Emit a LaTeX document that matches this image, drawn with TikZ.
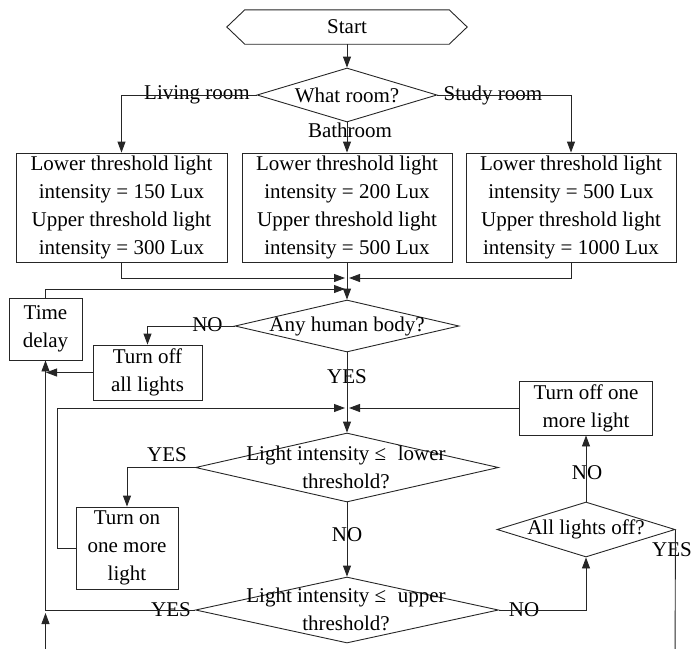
\documentclass[tikz,border=0pt]{standalone}
\usepackage{fontspec}
\setmainfont{Liberation Serif}
\usetikzlibrary{arrows.meta,shapes.geometric,calc}
\begin{document}
\begin{tikzpicture}[x=1pt,y=-1pt,
  every node/.style={font=\fontsize{21}{28}\selectfont, inner sep=0pt, align=center},
  box/.style={draw=black!85, line width=0.9pt},
  dia/.style={draw=black!85, shape=diamond, line width=0.9pt},
  link/.style={draw=black!85, line width=0.9pt},
  arr/.style={link, -{Triangle[length=11pt,width=8pt]}},
]
\useasboundingbox (0,0) rectangle (693,648);
\clip (0,0) rectangle (693,648);

% Start
\node[minimum width=204pt, minimum height=34pt] (start) at (347,27) {Start};
\draw[link] ($(start.west)+(-18,0)$) -- (start.north west) -- (start.north east)
  -- ($(start.east)+(18,0)$) -- (start.south east) -- (start.south west) -- cycle;

% What room
\node[dia, minimum width=180pt, minimum height=54pt] (room) at (347,95) {};
\node (roomt) at (room) {What room?};

% Threshold boxes
\node[box, minimum width=211pt, minimum height=109pt] (box1) at (121.5,207.5)
  {Lower threshold light\\intensity = 150 Lux\\Upper threshold light\\intensity = 300 Lux};
\node[box, minimum width=210pt, minimum height=109pt] (box2) at (347,207.5)
  {Lower threshold light\\intensity = 200 Lux\\Upper threshold light\\intensity = 500 Lux};
\node[box, minimum width=210pt, minimum height=109pt] (box3) at (571,207.5)
  {Lower threshold light\\intensity = 500 Lux\\Upper threshold light\\intensity = 1000 Lux};

% Time delay
\node[box, minimum width=73pt, minimum height=62pt] (tdelay) at (45.5,329) {Time\\delay};

% Any human body
\node[dia, minimum width=224pt, minimum height=52pt] (human) at (347,326) {};
\node (humant) at (human) {Any human body?};

% Turn off all lights
\node[box, minimum width=109pt, minimum height=55pt] (off) at (147.5,372.5) {Turn off\\all lights};

% Turn off one more light
\node[box, minimum width=133pt, minimum height=54pt] (more) at (586,408) {Turn off one\\more light};

% Lower threshold decision
\node[dia, minimum width=303pt, minimum height=69pt] (lower) at (347,467.5) {};
\node (lowert) at (346,467) {Light intensity ≤\hspace{0.3em} lower\\threshold?};

% Turn on one more light
\node[box, minimum width=102pt, minimum height=82pt] (on) at (127,548) {Turn on\\one more\\light};

% All lights off
\node[dia, minimum width=178pt, minimum height=55pt] (all) at (586,529.5) {};
\node (allt) at (all) {All lights off?};

% Upper threshold decision
\node[dia, minimum width=303pt, minimum height=66pt] (upper) at (347,610) {};
\node (uppert) at (346,609.5) {Light intensity ≤\hspace{0.3em} upper\\threshold?};

% Labels
\node (lliving) at (197,95) {Living room};
\node (lstudy) at (493,95) {Study room};
\node (lbath) at (350,130) {Bathroom};
\node (lno1) at (207.5,325) {NO};
\node (lyes1) at (347,377) {YES};
\node (lyes2) at (167,455) {YES};
\node (lno2) at (347,535) {NO};
\node (lyes3) at (171,610) {YES};
\node (lno3) at (524,610) {NO};
\node (lno4) at (587,473) {NO};
\node (lyes4) at (672,550) {YES};

% Coordinates
\coordinate (m1l) at (345,278);
\coordinate (m1r) at (349,278);
\coordinate (td) at (345,289);
\coordinate (m2l) at (345,408);
\coordinate (m2r) at (349,408);
\coordinate (offend) at (46,372.5);
\coordinate (b1) at (675,670);
\coordinate (b2) at (45.5,670);
\coordinate (b3) at (45.5,613);

% Connectors
\draw[arr] (start.south) -- (room.north);
\draw[arr] (room.west) -| (box1.north);
\draw[arr] (room.east) -| (box3.north);
\draw[arr] (room.south) -- (box2.north);
\draw[arr] (box1.south) |- (m1l);
\draw[arr] (box3.south) |- (m1r);
\draw[arr] (box2.south) -- (human.north);
\draw[arr] (tdelay.north) |- (td);
\draw[arr] (human.west) -| (off.north);
\draw[arr] (off.west) -- (offend);
\draw[arr] (human.south) -- (lower.north);
\draw[arr] (on.west) -- ++(-18,0) |- (m2l);
\draw[arr] (more.west) -- (m2r);
\draw[arr] (lower.west) -| (on.north);
\draw[arr] (lower.south) -- (upper.north);
\draw[arr] (upper.west) -| (tdelay.south);
\draw[arr] (upper.east) -| (all.south);
\draw[arr] (all.north) -- (more.south);
\draw[arr] (all.east) -- (b1) -- (b2) -- (b3);
\end{tikzpicture}
\end{document}
